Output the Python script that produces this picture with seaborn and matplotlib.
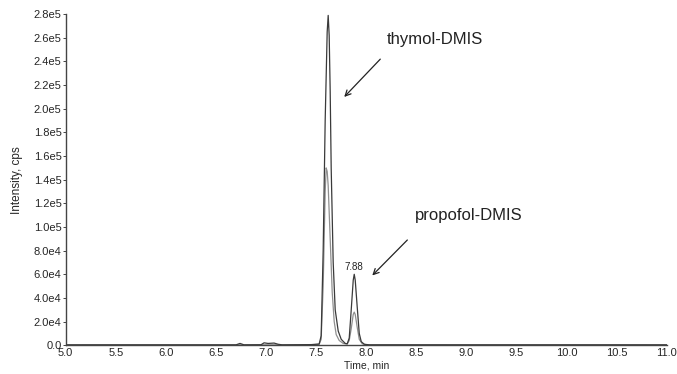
import numpy as np
import pandas as pd
import matplotlib
matplotlib.use("Agg")
import matplotlib.pyplot as plt
import seaborn as sns

# trace 1 (darker XIC)
time_a = [5.0, 6.70, 6.74, 6.78, 6.95, 6.98, 7.02, 7.08, 7.12, 7.16, 7.45, 7.53, 7.55,
          7.57, 7.59, 7.61, 7.62, 7.63, 7.64, 7.65, 7.67, 7.69, 7.72, 7.75, 7.79, 7.81,
          7.83, 7.85, 7.87, 7.88, 7.89, 7.91, 7.93, 7.95, 7.98, 8.03, 11.0]
inten_a = [300, 300, 1500, 300, 400, 2000, 1500, 1800, 800, 300, 500, 1000, 8000,
           80000, 190000, 265000, 279000, 262000, 215000, 150000, 70000, 30000, 12000, 5000, 1500, 1200,
           6000, 30000, 55000, 60000, 55000, 32000, 10000, 3000, 800, 300, 300]

# trace 2 (lighter XIC)
time_b = [5.0, 7.45, 7.53, 7.55, 7.57, 7.59, 7.60, 7.61, 7.62, 7.64, 7.66, 7.68, 7.70,
          7.73, 7.77, 7.81, 7.83, 7.85, 7.87, 7.88, 7.89, 7.91, 7.93, 7.96, 8.0, 11.0]
inten_b = [200, 300, 800, 5000, 50000, 130000, 150000, 147000, 135000, 90000, 45000, 20000, 9000,
           4000, 1500, 1000, 4000, 14000, 26000, 28000, 26000, 15000, 5000, 1200, 300, 200]

y_ticks = np.arange(0, 280001, 20000)
y_labels = ['0.0', '2.0e4', '4.0e4', '6.0e4', '8.0e4', '1.0e5', '1.2e5', '1.4e5',
            '1.6e5', '1.8e5', '2.0e5', '2.2e5', '2.4e5', '2.6e5', '2.8e5']
x_ticks = np.arange(5.0, 11.01, 0.5)

df = pd.concat([
    pd.DataFrame({'time': time_a, 'intensity': inten_a, 'trace': 'a'}),
    pd.DataFrame({'time': time_b, 'intensity': inten_b, 'trace': 'b'}),
])

sns.set_style('white')
plt.rcParams['font.family'] = ['Liberation Sans', 'DejaVu Sans']

fig = plt.figure(figsize=(6.77, 3.74), dpi=100)
ax = fig.add_axes([0.097, 0.077, 0.888, 0.885])
sns.lineplot(data=df[df.trace == 'b'], x='time', y='intensity', color='#8f8f8f', lw=0.9,
             estimator=None, sort=False, ax=ax)
sns.lineplot(data=df[df.trace == 'a'], x='time', y='intensity', color='#3a3a3a', lw=0.9,
             estimator=None, sort=False, ax=ax)

ax.set_xlim(5.0, 11.0)
ax.set_ylim(0, 280000)
ax.set_xticks(x_ticks)
ax.set_xticklabels([f'{v:.1f}' for v in x_ticks], fontsize=8)
ax.set_yticks(y_ticks)
ax.set_yticklabels(y_labels, fontsize=8)
ax.tick_params(axis='y', length=2, width=0.6, pad=1, left=True)
ax.tick_params(axis='x', length=0, pad=2)
ax.set_xlabel('Time, min', fontsize=7.5, labelpad=2)
ax.set_ylabel('Intensity, cps', fontsize=8.5, labelpad=8)
sns.despine(ax=ax)
for s in ['left', 'bottom']:
    ax.spines[s].set_color('#444444')
    ax.spines[s].set_linewidth(1.0)

ax.text(7.88, 62000, '7.88', fontsize=7, ha='center', va='bottom', color='#222222')

ax.text(8.20, 259000, 'thymol-DMIS', fontsize=12, ha='left', va='center', color='#222222')
ax.annotate('', xy=(7.78, 210000), xytext=(8.14, 242000),
            arrowprops=dict(arrowstyle='->', color='#222222', lw=0.9, shrinkA=0, shrinkB=0))
ax.text(8.49, 110000, 'propofol-DMIS', fontsize=12, ha='left', va='center', color='#222222')
ax.annotate('', xy=(8.06, 59000), xytext=(8.41, 89000),
            arrowprops=dict(arrowstyle='->', color='#222222', lw=0.9, shrinkA=0, shrinkB=0))

fig.savefig('out.png', dpi=100)
